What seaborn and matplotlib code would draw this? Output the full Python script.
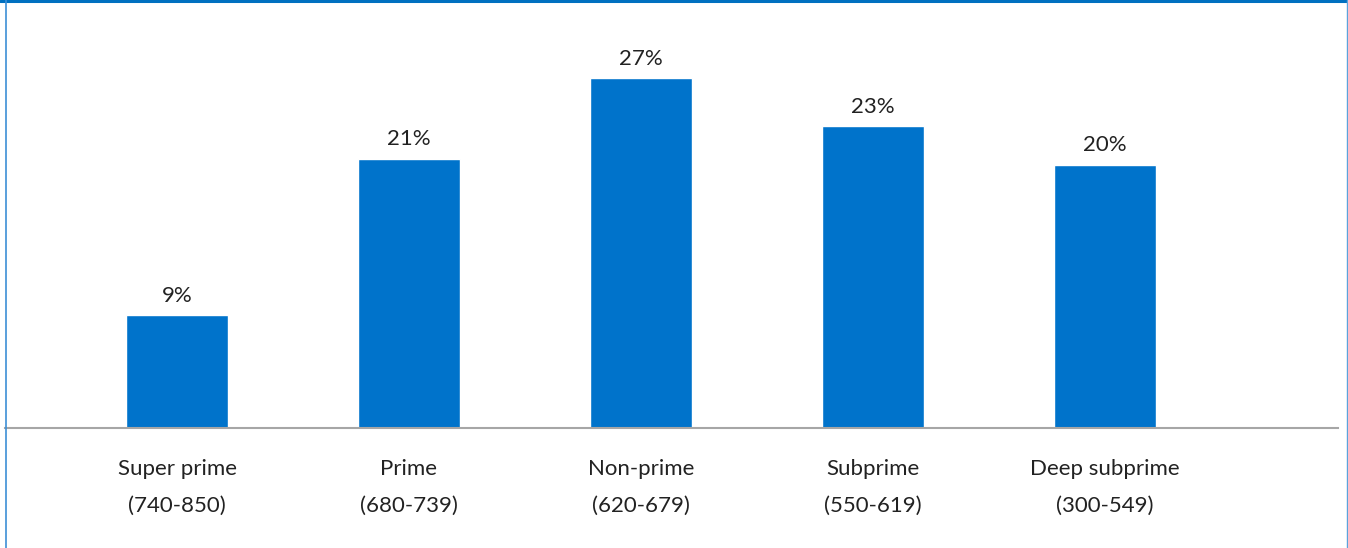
import matplotlib
matplotlib.use("Agg")
import matplotlib.pyplot as plt
import seaborn as sns
import pandas as pd
from matplotlib.lines import Line2D

categories = ["Super prime\n(740-850)", "Prime\n(680-739)", "Non-prime\n(620-679)",
              "Subprime\n(550-619)", "Deep subprime\n(300-549)"]
values = [8.7, 20.8, 27.0, 23.3, 20.3]
labels = ["9%", "21%", "27%", "23%", "20%"]

sns.set_theme(style="white")
plt.rcParams['font.family'] = ['Lato', 'DejaVu Sans']

df = pd.DataFrame({"category": categories, "value": values})

W, H = 1348, 548
fig = plt.figure(figsize=(W / 100, H / 100), dpi=100)
ax_left, ax_right = 5, 1338
ax_top, ax_bottom = 2, 428
ax = fig.add_axes([ax_left / W, 1 - ax_bottom / H, (ax_right - ax_left) / W, (ax_bottom - ax_top) / H])

sns.barplot(data=df, x="category", y="value", color="#0073CB", saturation=1,
            width=0.44, ax=ax)

ax.set_xlim((ax_left - 177) / 232, (ax_right - 177) / 232)
ax.set_ylim(0, (ax_bottom - ax_top) / 12.95)

for i, (v, lab) in enumerate(zip(values, labels)):
    ax.annotate(lab, (i, v), xytext=(0, 7), textcoords="offset points",
                ha="center", va="bottom", fontsize=16, color="#222222")

ax.set_xlabel("")
ax.set_ylabel("")
ax.set_yticks([])
ax.tick_params(axis="x", length=0, pad=22, labelsize=16, labelcolor="#222222")
for lbl in ax.get_xticklabels():
    lbl.set_linespacing(2.1)
for s in ["top", "right", "left"]:
    ax.spines[s].set_visible(False)
ax.spines["bottom"].set_color("#A6A6A6")
ax.spines["bottom"].set_linewidth(1.5)

# figure border
fig.add_artist(Line2D([0, 1], [1 - 1 / H, 1 - 1 / H], transform=fig.transFigure,
                      color="#0070C0", linewidth=2.2))
fig.add_artist(Line2D([5.5 / W, 5.5 / W], [0, 1], transform=fig.transFigure,
                      color="#3D8FD6", linewidth=1.2))
fig.add_artist(Line2D([1346.5 / W, 1346.5 / W], [0, 1], transform=fig.transFigure,
                      color="#5BA3DC", linewidth=1.0))

fig.savefig("out.png", dpi=100)
